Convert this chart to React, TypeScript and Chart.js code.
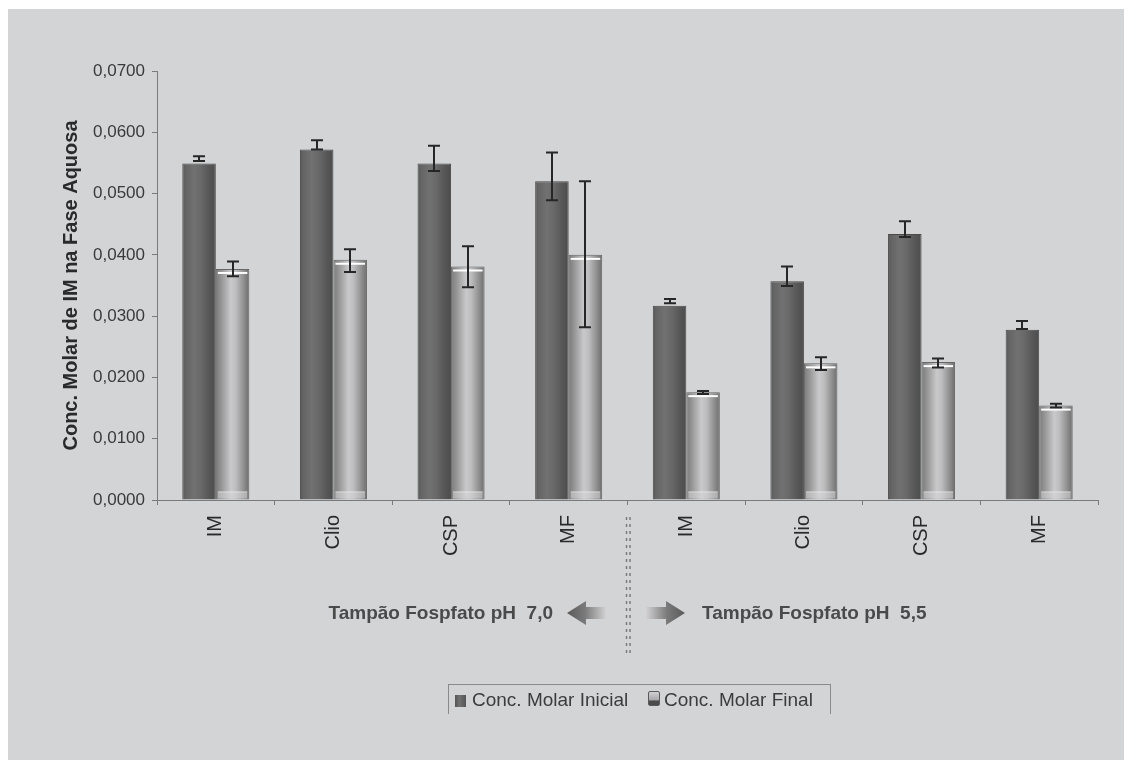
import React, { useEffect, useRef } from 'react';
import { Chart, registerables } from 'chart.js';

Chart.register(...registerables);

// ---------- data ----------
const categories = ['IM', 'Clio', 'CSP', 'MF', 'IM', 'Clio', 'CSP', 'MF'];
const seriesLabels = ['Conc. Molar Inicial', 'Conc. Molar Final'];
const initialValues = [0.0549, 0.0572, 0.0549, 0.052, 0.0317, 0.0357, 0.0434, 0.0278];
const finalValues = [0.0377, 0.0392, 0.0381, 0.04, 0.0176, 0.0223, 0.0225, 0.0154];
const initialErrorTop = [0.0561, 0.0587, 0.0578, 0.0567, 0.0328, 0.0381, 0.0455, 0.0292];
const initialErrorBottom = [0.0553, 0.0572, 0.0537, 0.0489, 0.0321, 0.0349, 0.0429, 0.0279];
const finalErrorTop = [0.0389, 0.0409, 0.0414, 0.052, 0.0178, 0.0233, 0.0231, 0.0157];
const finalErrorBottom = [0.0365, 0.0372, 0.0347, 0.0282, 0.0173, 0.0212, 0.0216, 0.0151];
const yTickLabels = ['0,0000', '0,0100', '0,0200', '0,0300', '0,0400', '0,0500', '0,0600', '0,0700'];
const yAxisTitle = 'Conc. Molar de IM na Fase Aquosa';
const groupLabels = ['Tampão Fospfato pH  7,0', 'Tampão Fospfato pH  5,5'];

// ---------- style ----------
const BG = '#d3d4d6';
const FONT = 'Arial, "Liberation Sans", Helvetica, sans-serif';
const CAT_PCT = 0.57;
const W = 1124;
const H = 752;

const darkStops: [number, string][] = [
  [0, '#565656'], [0.1, '#646464'], [0.35, '#717171'], [0.55, '#696969'], [0.8, '#575757'], [1, '#4c4c4c'],
];
const lightStops: [number, string][] = [
  [0, '#7a7a7a'], [0.15, '#939393'], [0.45, '#c9c9cb'], [0.6, '#bdbdbf'], [0.85, '#8c8c8c'], [1, '#6c6c6c'],
];

function barGradient(ctx: any, datasetIndex: number, stops: [number, string][]) {
  const chart = ctx.chart;
  const xs = chart.scales && chart.scales.x;
  if (!xs || ctx.dataIndex === undefined || !xs.width) return stops[2][1];
  const center = xs.getPixelForValue(ctx.dataIndex);
  const catW = xs.width / categories.length;
  const bw = (catW * CAT_PCT) / 2;
  const left = datasetIndex === 0 ? center - bw : center;
  const g = chart.ctx.createLinearGradient(left, 0, left + bw, 0);
  stops.forEach(([o, c]) => g.addColorStop(o, c));
  return g;
}

const detailPlugin = {
  id: 'barDetails',
  afterDatasetsDraw(chart: any) {
    const c = chart.ctx as CanvasRenderingContext2D;
    const ys = chart.scales.y;
    chart.getDatasetMeta(1).data.forEach((el: any) => {
      const { x, y, base, width } = el.getProps(['x', 'y', 'base', 'width'], true);
      const l = x - width / 2;
      const r = x + width / 2;
      c.save();
      c.strokeStyle = '#ffffff';
      c.lineWidth = 2;
      c.beginPath();
      c.moveTo(l + 2, y + 4);
      c.lineTo(r - 2, y + 4);
      c.stroke();
      c.fillStyle = 'rgba(215,215,217,0.55)';
      c.fillRect(l + 2, base - 7, width - 4, 6);
      c.strokeStyle = 'rgba(235,235,237,0.9)';
      c.lineWidth = 1;
      c.beginPath();
      c.moveTo(l + 2, base - 7.5);
      c.lineTo(r - 2, base - 7.5);
      c.stroke();
      c.restore();
    });
    const sets: [number[], number[]][] = [
      [initialErrorTop, initialErrorBottom],
      [finalErrorTop, finalErrorBottom],
    ];
    sets.forEach(([tops, bots], di) => {
      chart.getDatasetMeta(di).data.forEach((el: any, j: number) => {
        const x = Math.round(el.x);
        const yt = ys.getPixelForValue(tops[j]);
        const yb = ys.getPixelForValue(bots[j]);
        c.save();
        c.strokeStyle = '#262626';
        c.lineWidth = 2;
        c.beginPath();
        c.moveTo(x, yt);
        c.lineTo(x, yb);
        c.moveTo(x - 6, yt);
        c.lineTo(x + 6, yt);
        c.moveTo(x - 6, yb);
        c.lineTo(x + 6, yb);
        c.stroke();
        c.restore();
      });
    });
  },
};

export default function App() {
  const ref = useRef<HTMLCanvasElement>(null);

  useEffect(() => {
    const chart = new Chart(ref.current as HTMLCanvasElement, {
      type: 'bar',
      data: {
        labels: categories,
        datasets: [
          {
            label: seriesLabels[0],
            data: initialValues,
            backgroundColor: (ctx: any) => barGradient(ctx, 0, darkStops),
            borderColor: '#4a4a4a',
            borderWidth: 1,
            categoryPercentage: CAT_PCT,
            barPercentage: 1,
          },
          {
            label: seriesLabels[1],
            data: finalValues,
            backgroundColor: (ctx: any) => barGradient(ctx, 1, lightStops),
            borderColor: '#666666',
            borderWidth: 1,
            categoryPercentage: CAT_PCT,
            barPercentage: 1,
          },
        ],
      },
      options: {
        responsive: false,
        animation: false,
        layout: { padding: { left: 47, top: 62, right: 34, bottom: 0 } },
        plugins: {
          legend: { display: false },
          tooltip: { enabled: false },
        },
        scales: {
          x: {
            grid: { display: true, drawOnChartArea: false, drawTicks: true, tickLength: 5, color: '#7a7a7a', offset: true },
            border: { color: '#7a7a7a', width: 1 },
            ticks: {
              maxRotation: 90,
              minRotation: 90,
              padding: 10,
              color: '#2a2a2a',
              font: { family: FONT, size: 20 },
            },
            afterFit: (s: any) => {
              s.height = 261;
            },
          },
          y: {
            min: 0,
            max: 0.07,
            grid: { display: true, drawOnChartArea: false, drawTicks: true, tickLength: 5, color: '#7a7a7a' },
            border: { color: '#7a7a7a', width: 1 },
            ticks: {
              stepSize: 0.01,
              padding: 7,
              color: '#3a3a3a',
              font: { family: FONT, size: 17 },
              callback: (_v: any, i: number) => yTickLabels[i],
            },
            title: {
              display: true,
              text: yAxisTitle,
              color: '#2a2a2a',
              font: { family: FONT, size: 20, weight: 'bold' },
            },
            afterFit: (s: any) => {
              s.width = 102;
            },
          },
        },
      },
      plugins: [detailPlugin],
    } as any);
    return () => chart.destroy();
  }, []);

  const arrowH = 24;
  return (
    <div
      style={{
        position: 'relative',
        top: 1,
        width: W,
        height: H,
        background: BG,
        overflow: 'hidden',
        fontFamily: FONT,
      }}
    >
      <style>{'body{overflow:hidden}'}</style>
      <canvas ref={ref} width={W} height={H} style={{ position: 'absolute', left: 0, top: 0 }} />
      <svg width={W} height={H} style={{ position: 'absolute', left: 0, top: 0, pointerEvents: 'none' }}>
        <defs>
          <linearGradient id="gl" x1="0" x2="1" y1="0" y2="0">
            <stop offset="0" stopColor="#5a5a5a" />
            <stop offset="0.45" stopColor="#7a7a7a" />
            <stop offset="1" stopColor="#d6d6d8" />
          </linearGradient>
          <linearGradient id="gr" x1="0" x2="1" y1="0" y2="0">
            <stop offset="0" stopColor="#d6d6d8" />
            <stop offset="0.55" stopColor="#7a7a7a" />
            <stop offset="1" stopColor="#5a5a5a" />
          </linearGradient>
        </defs>
        <polygon
          points={`559,604 578,${604 - arrowH / 2} 578,598 599,598 599,610 578,610 578,${604 + arrowH / 2}`}
          fill="url(#gl)"
        />
        <polygon
          points={`677,604 658,${604 - arrowH / 2} 658,598 637,598 637,610 658,610 658,${604 + arrowH / 2}`}
          fill="url(#gr)"
        />
        <line x1={618.5} y1={508} x2={618.5} y2={644} stroke="#7c7c7c" strokeWidth={1.5} strokeDasharray="3,4" />
        <line x1={622} y1={508} x2={622} y2={644} stroke="#7c7c7c" strokeWidth={1.5} strokeDasharray="3,4" />
      </svg>
      <div
        style={{
          position: 'absolute',
          right: W - 545,
          top: 593,
          lineHeight: '22px',
          fontSize: 19,
          fontWeight: 'bold',
          color: '#4a4a4a',
          whiteSpace: 'pre',
        }}
      >
        {groupLabels[0]}
      </div>
      <div
        style={{
          position: 'absolute',
          left: 694,
          top: 593,
          lineHeight: '22px',
          fontSize: 19,
          fontWeight: 'bold',
          color: '#4a4a4a',
          whiteSpace: 'pre',
        }}
      >
        {groupLabels[1]}
      </div>
      <div
        style={{
          position: 'absolute',
          left: 440,
          top: 675,
          width: 383,
          height: 30,
          borderTop: '1px solid #8a8a8a',
          borderLeft: '1px solid #8a8a8a',
          borderRight: '1px solid #8a8a8a',
          boxSizing: 'border-box',
        }}
      >
        <div
          style={{
            position: 'absolute',
            left: 6,
            top: 10,
            width: 11,
            height: 12,
            background: 'linear-gradient(to right, #555, #707070 40%, #555)',
          }}
        />
        <div
          style={{
            position: 'absolute',
            left: 23,
            top: 4,
            lineHeight: '22px',
            fontSize: 19,
            color: '#3c3c3c',
            whiteSpace: 'pre',
          }}
        >
          {seriesLabels[0]}
        </div>
        <div
          style={{
            position: 'absolute',
            left: 199,
            top: 6,
            width: 12,
            height: 15,
            boxSizing: 'border-box',
            border: '1px solid #5a5a5a',
            borderRadius: 2,
            background: 'linear-gradient(to bottom, #d0d0d2 0%, #a8a8aa 62%, #4a4a4a 68%, #4a4a4a 100%)',
          }}
        />
        <div
          style={{
            position: 'absolute',
            left: 215,
            top: 4,
            lineHeight: '22px',
            fontSize: 19,
            color: '#3c3c3c',
            whiteSpace: 'pre',
          }}
        >
          {seriesLabels[1]}
        </div>
      </div>
    </div>
  );
}
